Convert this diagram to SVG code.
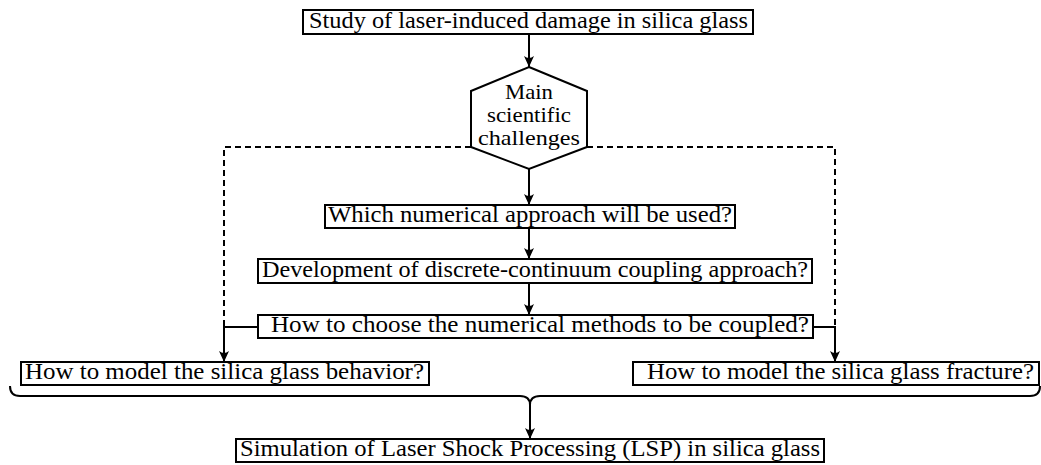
<svg xmlns="http://www.w3.org/2000/svg" width="1041" height="465" viewBox="0 0 1041 465">
<defs>
<style>
.box{fill:#fff;stroke:#000;stroke-width:2}
.t{font-family:"Liberation Serif","DejaVu Serif",serif;font-size:23px;fill:#000}
.h{font-family:"Liberation Serif","DejaVu Serif",serif;font-size:21.5px;fill:#000}
.ln{fill:none;stroke:#000;stroke-width:2}
.dash{fill:none;stroke:#000;stroke-width:2;stroke-dasharray:6 4}
</style>
<marker id="ah" markerUnits="userSpaceOnUse" markerWidth="14" markerHeight="12" viewBox="-12 -6 14 12" refX="0" refY="0" orient="auto">
<path d="M0,0 L-11,-5 Q-7,0 -11,5 Z" fill="#000"/>
</marker>
</defs>
<rect width="1041" height="465" fill="#fff"/>
<g id="connectors">
<path class="dash" d="M471,147 H224 V327"/>
<path class="dash" d="M587,147 H835 V327"/>
<path class="ln" d="M529,34 V67" marker-end="url(#ah)"/>
<path class="ln" d="M529,169 V205" marker-end="url(#ah)"/>
<path class="ln" d="M529,228 V259" marker-end="url(#ah)"/>
<path class="ln" d="M529,283 V315" marker-end="url(#ah)"/>
<path class="ln" d="M258,327 H224 V362" marker-end="url(#ah)"/>
<path class="ln" d="M813,327 H835 V362" marker-end="url(#ah)"/>
<path class="ln" d="M10,386 Q10,396 20,396 L520,396 Q530,396 530,405 Q530,396 540,396 L1030,396 Q1040,396 1040,386"/>
<path class="ln" d="M530,405 V439" marker-end="url(#ah)"/>
</g>
<g id="n1">
<rect class="box" x="303" y="10" width="450" height="24"/>
<text class="t" x="309" y="28" textLength="439" lengthAdjust="spacingAndGlyphs">Study of laser-induced damage in silica glass</text>
</g>
<g id="n2">
<polygon class="box" points="529,67 587,91 587,147 529,169 471,147 471,91"/>
<text class="h" x="505" y="99" textLength="48" lengthAdjust="spacingAndGlyphs">Main</text>
<text class="h" x="487" y="122" textLength="84" lengthAdjust="spacingAndGlyphs">scientific</text>
<text class="h" x="478" y="145" textLength="102" lengthAdjust="spacingAndGlyphs">challenges</text>
</g>
<g id="n3">
<rect class="box" x="325" y="205" width="410" height="23"/>
<text class="t" x="328" y="222" textLength="404" lengthAdjust="spacingAndGlyphs">Which numerical approach will be used?</text>
</g>
<g id="n4">
<rect class="box" x="258" y="259" width="554" height="24"/>
<text class="t" x="262" y="277" textLength="546" lengthAdjust="spacingAndGlyphs">Development of discrete-continuum coupling approach?</text>
</g>
<g id="n5">
<rect class="box" x="258" y="315" width="555" height="23"/>
<text class="t" x="271" y="332" textLength="538" lengthAdjust="spacingAndGlyphs">How to choose the numerical methods to be coupled?</text>
</g>
<g id="n6">
<rect class="box" x="21" y="362" width="408" height="23"/>
<text class="t" x="25" y="379" textLength="399" lengthAdjust="spacingAndGlyphs">How to model the silica glass behavior?</text>
</g>
<g id="n7">
<rect class="box" x="633" y="362" width="406" height="23"/>
<text class="t" x="647" y="379" textLength="387" lengthAdjust="spacingAndGlyphs">How to model the silica glass fracture?</text>
</g>
<g id="n8">
<rect class="box" x="236" y="439" width="588" height="23"/>
<text class="t" x="240" y="456" textLength="580" lengthAdjust="spacingAndGlyphs">Simulation of Laser Shock Processing (LSP) in silica glass</text>
</g>
</svg>
